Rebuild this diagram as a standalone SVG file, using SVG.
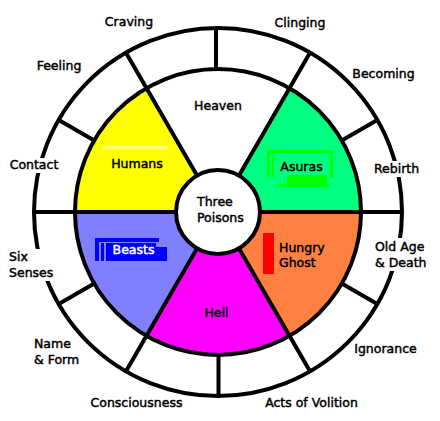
<svg xmlns="http://www.w3.org/2000/svg" width="440" height="421" viewBox="0 0 440 421">
<style>
text{font-family:"DejaVu Sans","Liberation Sans",sans-serif;font-size:12.5px;fill:#000;stroke:#000;stroke-width:0.45}
.c{text-anchor:middle}
.w{fill:#fff;stroke:#fff}
.ln{stroke:#000;stroke-width:4;fill:none}
.sec{stroke:none}
.bg{fill:#fff;stroke:none}
</style>
<rect width="440" height="421" fill="#fff"/>
<g id="sectors">
<path id="asuras-fill" class="sec" fill="#00FF80" d="M218,212 L361,212 A143,143 0 0 0 289.5,88.2 Z"/>
<path id="humans-fill" class="sec" fill="#FFFF00" d="M218,212 L146.5,88.2 A143,143 0 0 0 75,212 Z"/>
<path id="beasts-fill" class="sec" fill="#8080FF" d="M218,212 L75,212 A143,143 0 0 0 146.5,335.8 Z"/>
<path id="hell-fill" class="sec" fill="#FF00FF" d="M218,212 L146.5,335.8 A143,143 0 0 0 289.5,335.8 Z"/>
<path id="ghost-fill" class="sec" fill="#FF8040" d="M218,212 L289.5,335.8 A143,143 0 0 0 361,212 Z"/>
</g>
<g id="connectors" class="ln">
<circle cx="218" cy="212" r="184"/>
<circle cx="218" cy="212" r="143"/>
<line x1="260" y1="212" x2="402" y2="212"/>
<line x1="176" y1="212" x2="34" y2="212"/>
<line x1="239" y1="175.6" x2="310" y2="52.7"/>
<line x1="197" y1="175.6" x2="126" y2="52.7"/>
<line x1="197" y1="248.4" x2="126" y2="371.3"/>
<line x1="239" y1="248.4" x2="310" y2="371.3"/>
<line x1="341.8" y1="140.5" x2="377.3" y2="120"/>
<line x1="94.2" y1="140.5" x2="58.7" y2="120"/>
<line x1="94.2" y1="283.5" x2="58.7" y2="304"/>
<line x1="341.8" y1="283.5" x2="377.3" y2="304"/>
<line x1="216" y1="69" x2="216" y2="28"/>
<line x1="218.5" y1="355" x2="218.5" y2="396"/>
</g>
<g id="center">
<circle cx="218" cy="212" r="42" fill="#fff" stroke="#000" stroke-width="4"/>
<text x="197" y="206">Three</text>
<text x="197" y="222">Poisons</text>
</g>
<g id="heaven"><text class="c" x="218" y="110">Heaven</text></g>
<g id="humans">
<rect x="103" y="146" width="65" height="3.5" fill="#FFFF80"/>
<text class="c" x="137" y="168">Humans</text>
</g>
<g id="asuras">
<g fill="#00FF00">
<rect x="267" y="150" width="66" height="3"/>
<rect x="267" y="150" width="3" height="27"/>
<rect x="272" y="155" width="2" height="22"/>
<rect x="330" y="150" width="3" height="28"/>
<rect x="287" y="175" width="40" height="9"/>
<rect x="278" y="184" width="51" height="3"/>
</g>
<text class="c" x="301.5" y="171">Asuras</text>
</g>
<g id="beasts">
<g fill="#0000FF">
<rect x="95" y="238" width="64" height="4"/>
<rect x="95" y="238" width="4" height="23"/>
<rect x="101" y="243" width="3" height="18"/>
<rect x="106" y="243" width="50" height="18"/>
<rect x="108" y="247" width="59" height="14"/>
</g>
<text class="c w" x="133.5" y="254">Beasts</text>
</g>
<g id="hell"><text class="c" x="216.5" y="317">Hell</text></g>
<g id="hungry-ghost">
<rect x="263" y="233" width="11" height="41" fill="#FF0000"/>
<text x="279" y="252">Hungry</text>
<text x="279" y="267">Ghost</text>
</g>
<g id="labels">
<text class="c" x="129" y="26">Craving</text>
<text class="c" x="300" y="27">Clinging</text>
<text class="c" x="59" y="70">Feeling</text>
<text class="c" x="383.5" y="78">Becoming</text>
<rect class="bg" x="8" y="158" width="52" height="15"/>
<text class="c" x="34" y="169">Contact</text>
<rect class="bg" x="371" y="161" width="51" height="16"/>
<text class="c" x="396.5" y="173">Rebirth</text>
<rect class="bg" x="7" y="249" width="50" height="32"/>
<text x="9" y="261">Six</text>
<text x="9" y="277">Senses</text>
<rect class="bg" x="373" y="238" width="57" height="33"/>
<text x="375" y="251">Old Age</text>
<text x="375" y="267">&amp; Death</text>
<text x="34" y="348">Name</text>
<text x="34" y="364">&amp; Form</text>
<text class="c" x="385.5" y="353">Ignorance</text>
<text class="c" x="136.5" y="407">Consciousness</text>
<text class="c" x="311.5" y="407">Acts of Volition</text>
</g>
</svg>
